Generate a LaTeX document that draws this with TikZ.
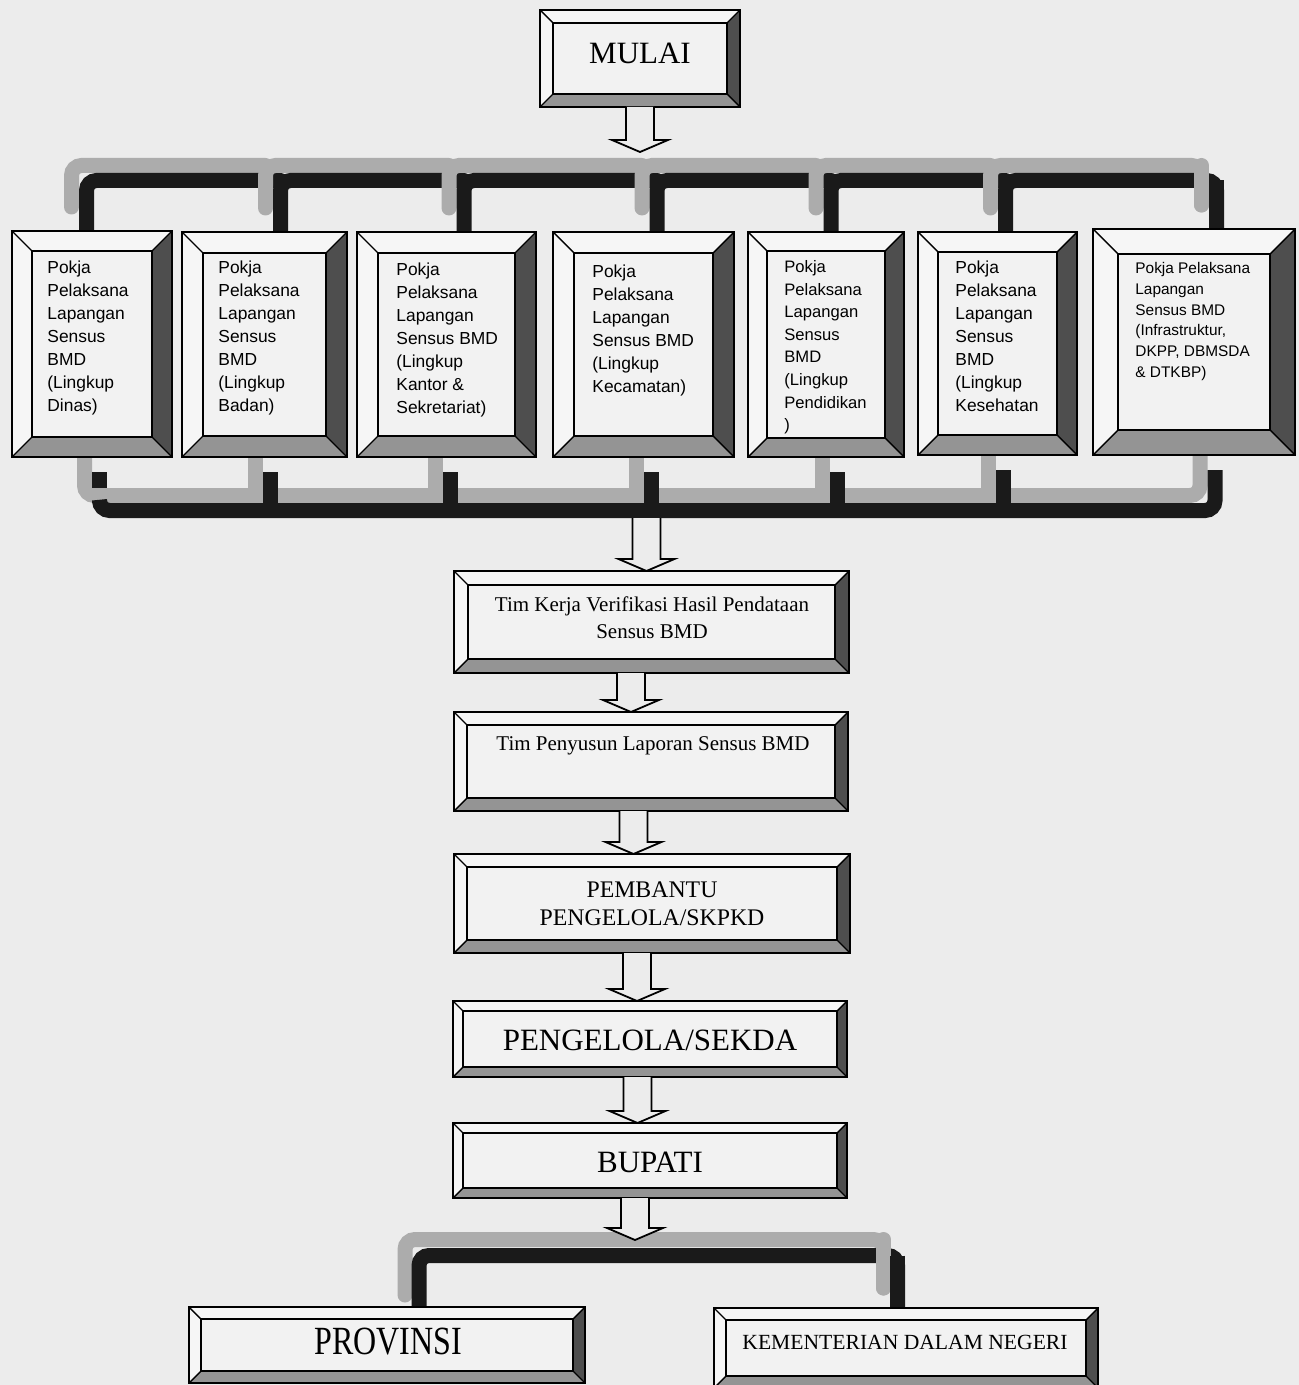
\documentclass[tikz,border=0pt]{standalone}
\usepackage{fontspec}
\usepackage{graphicx}
\setmainfont{Liberation Serif}
\newfontfamily\arialf{Liberation Sans}
\usetikzlibrary{calc,fit}
\pgfdeclarelayer{bgfill}
\pgfdeclarelayer{conn}
\pgfsetlayers{bgfill,conn,main}

\definecolor{pagebg}{RGB}{236,236,236}
\definecolor{facec}{RGB}{242,242,242}
\definecolor{litec}{RGB}{246,246,246}
\definecolor{darkc}{RGB}{78,78,78}
\definecolor{midc}{RGB}{148,148,148}
\definecolor{shadc}{RGB}{172,172,172}
\definecolor{blkc}{RGB}{26,26,26}

\tikzset{
  bev/.style={draw=black, line width=0.7pt, line join=miter},
  shadowline/.style={draw=shadc, line width=7.5pt, line cap=round, rounded corners=5},
  busline/.style={draw=blkc, line width=7.5pt, line cap=round, rounded corners=5},
  busbutt/.style={draw=blkc, line width=7.5pt, line cap=butt, rounded corners=5},
  blockarr/.style={draw=black, line width=0.9pt, fill=pagebg, line join=miter},
  pokja/.style={anchor=north west, inner sep=0pt, align=left, font=\arialf\fontsize{8.7}{11.5}\selectfont},
  serifc/.style={anchor=center, inner sep=0pt, align=center},
}

% #1 name, #2 x1, #3 y1, #4 x2, #5 y2, #6 bevel
\newcommand\bevbox[6]{%
 \fill[litec] (#2,#3) -- (#4,#3) -- (#4-#6,#3+#6) -- (#2+#6,#3+#6) -- cycle;
 \fill[litec] (#2,#3) -- (#2+#6,#3+#6) -- (#2+#6,#5-#6) -- (#2,#5) -- cycle;
 \fill[darkc] (#4,#3) -- (#4,#5) -- (#4-#6,#5-#6) -- (#4-#6,#3+#6) -- cycle;
 \fill[midc] (#2,#5) -- (#4,#5) -- (#4-#6,#5-#6) -- (#2+#6,#5-#6) -- cycle;
 \fill[facec] (#2+#6,#3+#6) rectangle (#4-#6,#5-#6);
 \draw[bev] (#2,#3) rectangle (#4,#5);
 \draw[bev] (#2+#6,#3+#6) rectangle (#4-#6,#5-#6);
 \draw[bev] (#2,#3) -- (#2+#6,#3+#6) (#4,#3) -- (#4-#6,#3+#6) (#2,#5) -- (#2+#6,#5-#6) (#4,#5) -- (#4-#6,#5-#6);
 \node[fit={(#2,#3) (#4,#5)}, inner sep=0pt, outer sep=0pt] (#1) {};
}

\newcommand\barrow[2]{%
 \draw[blockarr] let \p1=(#1), \p2=(#2) in
   (\x1-7pt,\y1) -- (\x1-7pt,\y2+6pt) -- (\x1-14pt,\y2+6pt) -- (\x1,\y2)
   -- (\x1+14pt,\y2+6pt) -- (\x1+7pt,\y2+6pt) -- (\x1+7pt,\y1);
}

\begin{document}
\begin{tikzpicture}[x=0.5pt,y=-0.5pt]
\useasboundingbox (0,0) rectangle (1299,1385);
\begin{pgfonlayer}{bgfill}
\fill[pagebg] (0,0) rectangle (1299,1385);
\end{pgfonlayer}

% ---------- boxes ----------
\bevbox{mulai}{540}{10}{740}{107}{13}
\node[serifc, font=\fontsize{15.5}{18}\selectfont] (mulait) at (640,53) {MULAI};

\bevbox{p1}{12}{231}{172}{457}{20}
\bevbox{p2}{182}{232}{347}{457}{21}
\bevbox{p3}{357}{232}{536}{457}{21}
\bevbox{p4}{553}{232}{734}{457}{21}
\bevbox{p5}{748}{232}{904}{457}{19}
\bevbox{p6}{918}{232}{1077}{455}{20}
\bevbox{p7}{1093}{229}{1295}{455}{25}

\node[pokja] (p1t) at (47,260) {Pokja\\Pelaksana\\Lapangan\\Sensus\\BMD\\(Lingkup\\Dinas)};
\node[pokja] (p2t) at (218,260) {Pokja\\Pelaksana\\Lapangan\\Sensus\\BMD\\(Lingkup\\Badan)};
\node[pokja] (p3t) at (396,262) {Pokja\\Pelaksana\\Lapangan\\Sensus BMD\\(Lingkup\\Kantor \&\\Sekretariat)};
\node[pokja] (p4t) at (592,264) {Pokja\\Pelaksana\\Lapangan\\Sensus BMD\\(Lingkup\\Kecamatan)};
\node[pokja, font=\arialf\fontsize{8.3}{11.3}\selectfont] (p5t) at (784,260) {Pokja\\Pelaksana\\Lapangan\\Sensus\\BMD\\(Lingkup\\Pendidikan\\)};
\node[pokja] (p6t) at (955,260) {Pokja\\Pelaksana\\Lapangan\\Sensus\\BMD\\(Lingkup\\Kesehatan};
\node[pokja, font=\arialf\fontsize{7.7}{10.4}\selectfont] (p7t) at (1135,262) {Pokja Pelaksana\\Lapangan\\Sensus BMD\\(Infrastruktur,\\DKPP, DBMSDA\\\& DTKBP)};

\bevbox{tk}{454}{571}{849}{673}{14}
\node[serifc, font=\fontsize{10.5}{13.5}\selectfont] (tkt) at (652,618) {Tim Kerja Verifikasi Hasil Pendataan\\Sensus BMD};

\bevbox{tp}{454}{712}{848}{811}{13}
\node[serifc, font=\fontsize{10.5}{13.5}\selectfont] (tpt) at (653,746) {Tim Penyusun Laporan Sensus BMD};

\bevbox{pb}{454}{854}{850}{953}{13}
\node[serifc, font=\fontsize{11.9}{14}\selectfont] (pbt) at (652,904) {PEMBANTU\\PENGELOLA/SKPKD};

\bevbox{ps}{453}{1001}{847}{1077}{10}
\node[serifc, font=\fontsize{15.5}{18}\selectfont] (pst) at (650,1040) {PENGELOLA/SEKDA};

\bevbox{bu}{453}{1123}{847}{1198}{10}
\node[serifc, font=\fontsize{15.5}{18}\selectfont] (but) at (650,1162) {BUPATI};

\bevbox{pr}{189}{1307}{585}{1383}{12}
\node[serifc, font=\fontsize{16}{19}\selectfont] (prt) at (388,1342) {\scalebox{1}[1.25]{PROVINSI}};

\bevbox{km}{714}{1308}{1098}{1388}{12}
\node[serifc, font=\fontsize{10.8}{13}\selectfont] (kmt) at (905,1342) {KEMENTERIAN DALAM NEGERI};

% ---------- connector coordinates ----------
\coordinate (tb) at (0,180.5);
\coordinate (k1) at (86.5,0);
\coordinate (k2) at (280.5,0);
\coordinate (k3) at (464,0);
\coordinate (k4) at (657,0);
\coordinate (k5) at (831,0);
\coordinate (k6) at (1005.5,0);
\coordinate (k7) at (1216.5,0);

\coordinate (bb) at (0,510.5);
\coordinate (gb) at (0,495.5);
\coordinate (m1) at (99.5,0);
\coordinate (m2) at (270.5,0);
\coordinate (m3) at (450,0);
\coordinate (m4) at (651,0);
\coordinate (m5) at (837,0);
\coordinate (m6) at (1003.5,0);
\coordinate (m7) at (1215,0);

\coordinate (lb) at (0,1255.5);
\coordinate (q1) at (419,0);
\coordinate (q2) at (897.5,0);

\begin{pgfonlayer}{conn}
% top bus
\foreach \a/\b in {1/2,2/3,3/4,4/5,5/6}{
  \draw[shadowline] ($(k\a|-p\a.north)+(-15,-24)$) -- ($(k\a|-tb)+(-15,-15)$) -- ($(k\b|-tb)+(-15,-15)$);
  \draw[busline] (k\a|-p\a.north) -- (k\a|-tb) -- (k\b|-tb);
}
\draw[shadowline] ($(k6|-p6.north)+(-15,-24)$) -- ($(k6|-tb)+(-15,-15)$) -- ($(k7|-tb)+(-15,-15)$) -- ($(k7|-p7.north)+(-15,-24)$);
\draw[busline] (k6|-p6.north) -- (k6|-tb) -- (k7|-tb) -- (k7|-p7.north);
\draw[shadowline] ($(k7|-tb)+(-15,-15)$) -- ($(k7|-p7.north)+(-15,-24)$);
\draw[busbutt] (k7|-tb) -- (k7|-p7.north);

% bottom bus
\draw[shadowline] ($(m1|-p1.south)+(-15,0)$) -- ($(m1|-gb)+(-15,0)$) -- ($(m7|-gb)+(-15,0)$) -- ($(m7|-p7.south)+(-15,0)$);
\foreach \i in {2,...,6}{
  \draw[shadowline] ($(m\i|-p\i.south)+(-15,0)$) -- ($(m\i|-gb)+(-15,0)$);
}
\draw[busbutt] ($(m1|-p1.south)+(0,15)$) -- ($(m1|-gb)+(0,-7.5)$);
\draw[busbutt] ($(m1|-gb)+(0,7.5)$) -- (m1|-bb) -- (m7|-bb) -- ($(m7|-p7.south)+(0,15)$);
\foreach \i in {2,...,6}{
  \draw[busbutt] ($(m\i|-p\i.south)+(0,15)$) -- (m\i|-bb);
}

% lower fork
\draw[shadowline] ($(q1|-pr.north)+(-14,-12)$) -- ($(q1|-lb)+(-14,-16)$) -- ($(q2|-lb)+(-14,-16)$) -- ($(q2|-km.north)+(-14,-20)$);
\draw[busline] (q1|-pr.north) -- (q1|-lb) -- (q2|-lb) -- (q2|-km.north);
\draw[shadowline] ($(q2|-lb)+(-14,-16)$) -- ($(q2|-km.north)+(-14,-20)$);
\draw[busbutt] (q2|-lb) -- (q2|-km.north);
\end{pgfonlayer}

% ---------- block arrows ----------
\coordinate (a1t) at (640,152);
\coordinate (a2s) at (646.5,518);
\coordinate (a7t) at (635,1240);
\barrow{mulai.south}{a1t}
\barrow{a2s}{a2s |- tk.north}
\barrow{tk.south -| 631,0}{tp.north -| 631,0}
\barrow{tp.south -| 633.5,0}{pb.north -| 633.5,0}
\barrow{pb.south -| 637,0}{ps.north -| 637,0}
\barrow{ps.south -| 637.5,0}{bu.north -| 637.5,0}
\barrow{bu.south -| 635,0}{a7t}
\end{tikzpicture}
\end{document}
